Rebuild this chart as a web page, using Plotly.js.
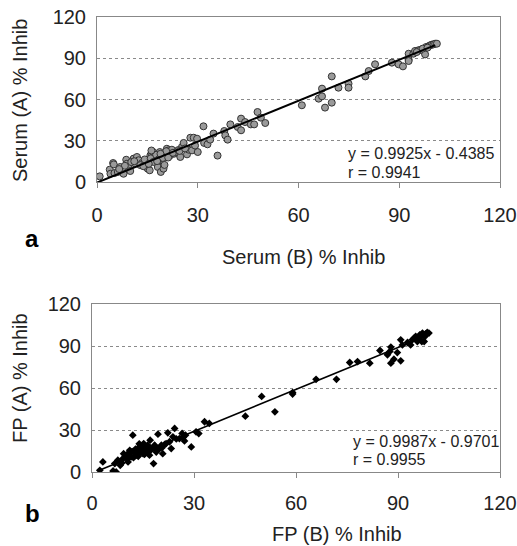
<!DOCTYPE html>
<html><head><meta charset="utf-8">
<script src="https://cdn.plot.ly/plotly-3.0.1.min.js"></script>
<style>html,body{margin:0;padding:0;background:#fff}#chart{width:517px;height:546px}</style>
</head><body><div id="chart"></div>
<script>
// Panel a: Serum (B) vs Serum (A) % inhibition
const serumB = [0.8,3.8,4,4.8,5,5.2,6.2,6.9,7.9,8.7,8.9,9.4,9.9,10.9,11.4,11.9,12.4,13.4,14.7,15.1,15.7,15.9,16.4,16.7,17.1,17.4,17.9,18.1,18.7,18.8,19,19.3,19.8,20.3,20.8,21.3,21.8,22.3,23,23.8,24.8,25.3,25.8,26.8,27.3,27.8,28.3,28.8,29.8,30,31.7,31.9,32.9,33.7,34.7,35.9,37.9,38.2,38.9,39.7,41.9,42.9,42.9,44.1,45.8,46.8,47.8,48.8,50.1,61,66,67,67,67.9,69.9,69.9,71.9,74.9,74.9,79.9,80.9,82.8,87.8,89.8,91.1,92.8,92.8,92.8,94.2,94.7,95.7,96.4,97.2,97.7,98,98.7,99.2,99.7,100.2,100.7,101.2,97,95.2,98.4,
  10.2,12.9,14.2,16,16.8,17.6,18.4,19.6,20.6,21.2,22.6,24.2,13.8,15.4,17.9,18.9,16.2,20.1,8.3,6.6,11.1,24.6,26.2,29.2];
const serumA = [4.1,9,6,13.8,12.8,6.5,7.3,10.9,6,16.2,13.3,10.4,8,17,13.3,18.2,15.8,13.8,10.9,9.7,8.5,19.4,20.1,21.8,18.2,15.8,13.3,10.9,21.8,18.2,7.3,15.8,9.7,20.1,24.2,23,19.4,23.5,20.6,21.8,18.2,25.5,28.4,20.1,23.5,32.2,23,32.2,31.5,21.8,40.5,28.4,27.4,30.8,35.2,19.2,37.1,33.9,30.8,41.9,40,46.1,37.6,43.6,41.9,41.9,50.9,46.8,42.9,55.8,60.6,62.3,67.9,54.1,76.8,57.7,68.6,71.5,68.6,76.8,80.7,85.6,86.8,85.6,84.1,93.3,89,88,93.3,95.3,95.8,96.2,95.3,92.8,98.2,98.7,99.4,99.9,100.1,100.6,100.6,97,94.5,97.7,
  14.5,12.3,16.4,17.2,14.6,19.8,16.5,17.5,22.4,17.8,21.2,23.2,11.5,13.2,15.2,20.5,22.9,12.4,11.8,9.4,15.1,22.6,24.4,26.5];
const eqA = {slope: 0.9925, intercept: -0.4385, xStart: 0, xEnd: 100.7, text: ["y = 0.9925x - 0.4385", "r = 0.9941"]};

// Panel b: FP (B) vs FP (A) % inhibition
const fpB = [2.3,3.2,6.2,7.1,6.7,7.6,8.3,9.1,9.3,10.1,10.6,11.1,11.5,12,12.5,13,13.5,14,14.5,15,15.2,15.9,16.4,16.9,17.1,17.7,18.1,18.4,18.9,19.4,19.9,20.4,20.8,21.8,22.3,23.3,23.8,24.3,25.7,26.5,27.2,27.5,29.2,30.6,31.4,33.1,34.5,45.1,49.9,53.8,59,59,65.9,71.9,75.8,78.1,81.7,84.7,86.9,87.6,87.9,87.9,88.8,89.8,90.8,90.8,91.3,92.8,93.7,94.2,94.7,95.2,96,96.4,97,97.2,97.7,98.1,98.6,99.1,95.7,96.6,97.9,
  8.8,9.8,10.4,11.8,12.8,13.6,14.2,14.8,15.6,16.2,16.6,17.4,18.6,19.2,20.6,21.4,22.8,24.8,26.8,13.9,15.4,16.8,12.2,10.9];
const fpA = [1.2,7.2,0.7,0,6,8.4,4.8,9.6,13.1,12,7.2,15.5,10.8,26.3,14.3,12,16.7,14.3,17.9,13.1,20.3,15.5,19.1,12,22.7,16.7,6,19.1,14.3,27,16.7,19.1,13.1,20.3,28,16.7,25.1,31.1,23.9,27.5,22.2,26.3,17.9,28.7,27.5,35.9,34.7,39.9,54,43,55.7,56.7,66.2,66.2,78.2,78.9,77.7,86.8,83.7,86.1,89.2,77.7,80.6,85.3,79.4,94.4,90.8,92.5,90.8,94.4,95.6,96.8,95.6,98,93.2,99.2,93.2,98.7,99.7,99.2,93.2,96.4,96.8,
  6.5,11.5,9.2,14.6,16.4,11.2,18.5,16.6,13.2,18.2,14.9,16.1,18.2,15.6,17.4,19.8,21.6,23.6,24.8,20.1,12.6,14.8,10.2,13.8];
const eqB = {slope: 0.9987, intercept: -0.9701, xStart: 2, xEnd: 98.6, text: ["y = 0.9987x - 0.9701", "r = 0.9955"]};

const tickVals = [0, 30, 60, 90, 120];
const tickText = ["0", "30", "60", "90", "120"];
const titlesA = {x: "Serum (B) % Inhib", y: "Serum (A) % Inhib", tag: "a"};
const titlesB = {x: "FP (B) % Inhib", y: "FP (A) % Inhib", tag: "b"};

const FONT = "Liberation Sans, Arial, sans-serif";

function lineTrace(eq, xa, ya, w) {
  const xs = [eq.xStart, eq.xEnd];
  return {x: xs, y: xs.map(v => eq.slope * v + eq.intercept), xaxis: xa, yaxis: ya,
    mode: "lines", line: {color: "#000", width: w}, hoverinfo: "skip", showlegend: false};
}

const traces = [
  {x: serumB, y: serumA, xaxis: "x", yaxis: "y", mode: "markers", showlegend: false,
   marker: {symbol: "circle", size: 7, color: "#9a9a9a", line: {color: "#333", width: 1}}},
  lineTrace(eqA, "x", "y", 2),
  {x: fpB, y: fpA, xaxis: "x2", yaxis: "y2", mode: "markers", showlegend: false,
   marker: {symbol: "diamond", size: 6, color: "#000", line: {width: 0}}},
  lineTrace(eqB, "x2", "y2", 1.6)
];

function xAxis(domain, anchor, standoff) {
  return {domain: domain, anchor: anchor, range: [0, 120], tickvals: tickVals, ticktext: tickText,
    showgrid: false, zeroline: false, showline: true, linecolor: "#888", linewidth: 1, mirror: true,
    ticks: "outside", ticklen: 5, tickcolor: "#888", ticklabelstandoff: standoff,
    tickfont: {family: FONT, size: 20, color: "#222"}};
}
function yAxis(domain, anchor) {
  return {domain: domain, anchor: anchor, range: [0, 120], tickvals: tickVals, ticktext: tickText,
    showgrid: true, gridcolor: "#8a8a8a", griddash: "dot", gridwidth: 1,
    zeroline: false, showline: true, linecolor: "#888", linewidth: 1, mirror: true,
    ticks: "", ticklabelstandoff: 6,
    tickfont: {family: FONT, size: 20, color: "#222"}};
}

const W = 517, H = 546;
function ann(text, px, py, size, opts) {
  return Object.assign({text: text, xref: "paper", yref: "paper", x: px / W, y: 1 - py / H,
    showarrow: false, xanchor: "center", yanchor: "middle",
    font: {family: FONT, size: size, color: "#222"}}, opts || {});
}
function eqAnn(eq, xa, ya, xLeft, y1, y2) {
  return [
    {text: eq.text[0], xref: xa, yref: ya, x: xLeft, y: y1, showarrow: false, xanchor: "left", yanchor: "middle",
     font: {family: FONT, size: 16, color: "#222"}},
    {text: eq.text[1], xref: xa, yref: ya, x: xLeft, y: y2, showarrow: false, xanchor: "left", yanchor: "middle",
     font: {family: FONT, size: 16, color: "#222"}}
  ];
}

const layout = {
  width: W, height: H, margin: {l: 0, r: 0, t: 0, b: 0},
  paper_bgcolor: "#fff", plot_bgcolor: "#fff", showlegend: false,
  xaxis: xAxis([97 / W, 500 / W], "y", 10),
  yaxis: yAxis([1 - 182 / H, 1 - 17 / H], "x"),
  xaxis2: xAxis([92 / W, 500 / W], "y2", 8),
  yaxis2: yAxis([1 - 472 / H, 1 - 304 / H], "x2"),
  annotations: [
    ann(titlesA.y, 20, 101, 20, {textangle: -90}),
    ann(titlesA.x, 303, 257, 20),
    ann("<b>" + titlesA.tag + "</b>", 32, 238, 24, {font: {family: FONT, size: 24, color: "#000"}}),
    ann(titlesB.y, 20, 378, 20, {textangle: -90}),
    ann(titlesB.x, 337, 534, 20),
    ann("<b>" + titlesB.tag + "</b>", 32, 513, 24, {font: {family: FONT, size: 24, color: "#000"}})
  ].concat(eqAnn(eqA, "x", "y", 74.2, 20.8, 7.2), eqAnn(eqB, "x2", "y2", 76.3, 21.9, 9.0))
};

Plotly.newPlot("chart", traces, layout, {staticPlot: true, displayModeBar: false});
</script></body></html>
